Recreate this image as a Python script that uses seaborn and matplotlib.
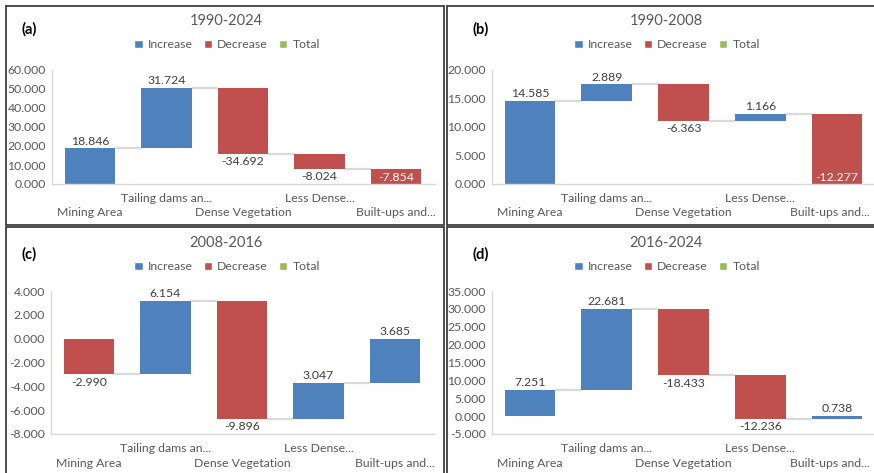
import numpy as np
import pandas as pd
import matplotlib
matplotlib.use("Agg")
import matplotlib.pyplot as plt
from matplotlib.patches import Patch
from matplotlib.lines import Line2D
import seaborn as sns

categories = ["Mining Area", "Tailing dams an...", "Dense Vegetation", "Less Dense...", "Built-ups and..."]
vals_a = [18.846, 31.724, -34.692, -8.024, -7.854]
vals_b = [14.585, 2.889, -6.363, 1.166, -12.277]
vals_c = [-2.990, 6.154, -9.896, 3.047, 3.685]
vals_d = [7.251, 22.681, -18.433, -12.236, 0.738]
titles = ["1990-2024", "1990-2008", "2008-2016", "2016-2024"]
letters = ["(a)", "(b)", "(c)", "(d)"]
ylims = [(0, 60), (0, 20), (-8, 4), (-5, 35)]
ysteps = [10, 5, 2, 5]
legend_labels = ["Increase", "Decrease", "Total"]

C_INC = "#4F81BD"
C_DEC = "#C0504D"
C_TOT = "#9BBB59"
GRAY_TXT = "#595959"

sns.set_theme(style="white")
plt.rcParams["font.family"] = ["Lato", "DejaVu Sans"]

W, H = 874, 473
fig = plt.figure(figsize=(W / 100, H / 100), dpi=100)
fig.patch.set_facecolor("white")

def fx(px):
    return px / W

def fy(py):
    return 1 - py / H

panels = [
    dict(l=51.5, r=434.5, t=70, b=184, ox=0, oy=0),
    dict(l=491.5, r=875.5, t=70, b=184, ox=440, oy=0),
    dict(l=50.5, r=433.5, t=291, b=434, ox=0, oy=222),
    dict(l=491.5, r=875.5, t=291, b=434, ox=440, oy=222),
]
all_vals = [vals_a, vals_b, vals_c, vals_d]
FS = 8.8

for i, (p, vals) in enumerate(zip(panels, all_vals)):
    ax = fig.add_axes([fx(p["l"]), fy(p["b"]), fx(p["r"] - p["l"]), (p["b"] - p["t"]) / H])
    vals = np.array(vals)
    ends = np.cumsum(vals)
    starts = ends - vals
    df = pd.DataFrame({"cat": categories, "val": vals, "start": starts})
    sns.barplot(data=df, x="cat", y="val", order=categories, bottom=df["start"].values,
                ax=ax, width=0.66, errorbar=None, linewidth=0, saturation=1, color=C_INC)
    for patch, v in zip(ax.patches, vals):
        patch.set_facecolor(C_INC if v >= 0 else C_DEC)
        patch.set_edgecolor("none")
    hw = 0.33
    for k in range(len(vals) - 1):
        ax.plot([k + hw, k + 1 - hw], [ends[k], ends[k]], color="#D9D9D9", lw=1.6, zorder=1,
                solid_capstyle="butt")
    ymin, ymax = ylims[i]
    span = ymax - ymin
    off = span * 0.035
    for k, v in enumerate(vals):
        txt = f"{v:.3f}"
        top = max(starts[k], ends[k])
        bot = min(starts[k], ends[k])
        if v >= 0:
            ax.text(k, top + off * 0.4, txt, ha="center", va="bottom", fontsize=FS, color="#404040")
        else:
            if bot <= ymin + span * 0.01:
                ax.text(k, bot + off * 0.2, txt, ha="center", va="bottom", fontsize=FS, color="white")
            else:
                ax.text(k, bot - off * 0.5, txt, ha="center", va="top", fontsize=FS, color="#404040")
    ax.set_xlim(-0.5, 4.5)
    ax.set_ylim(ymin, ymax)
    ticks = np.arange(ymin, ymax + 0.001, ysteps[i])
    ax.set_yticks(ticks)
    ax.set_yticklabels([f"{t:.3f}" for t in ticks])
    ax.tick_params(axis="y", labelsize=FS, labelcolor=GRAY_TXT, length=0, pad=4)
    ax.set_xticks([])
    ax.set_xlabel("")
    ax.set_ylabel("")
    for s in ["top", "right"]:
        ax.spines[s].set_visible(False)
    ax.spines["left"].set_color("#D9D9D9")
    ax.spines["left"].set_linewidth(1.0)
    ax.spines["bottom"].set_color("#D9D9D9")
    ax.spines["bottom"].set_linewidth(1.0)
    ax.patch.set_alpha(0)
    cw = (p["r"] - p["l"]) / 5
    row1 = p["b"] + 14
    row2 = p["b"] + 29
    for k, c in enumerate(categories):
        xc = p["l"] + cw * (k + 0.5)
        yy = row2 if k % 2 == 0 else row1
        if xc + 45 > W:
            fig.text(fx(W - 4), fy(yy), c, ha="right", va="center", fontsize=FS, color=GRAY_TXT)
        else:
            fig.text(fx(xc), fy(yy), c, ha="center", va="center", fontsize=FS, color=GRAY_TXT)
    ox, oy = p["ox"], p["oy"]
    fig.text(fx(226 + ox), fy(21 + oy), titles[i], ha="center", va="center", fontsize=10.5, color=GRAY_TXT)
    fig.text(fx(22 + ox + (10 if i % 2 else 0)), fy(29 + oy + (3 if i >= 2 else 0)), letters[i],
             ha="left", va="center", fontsize=10.5, fontweight="bold", color="black")
    handles = [Patch(facecolor=C_INC), Patch(facecolor=C_DEC), Patch(facecolor=C_TOT)]
    fig.legend(handles, legend_labels, loc="center", bbox_to_anchor=(fx(227 + ox), fy(45 + oy)),
               ncol=3, frameon=False, fontsize=FS, handlelength=0.7, handleheight=0.7,
               handletextpad=0.4, columnspacing=0.9, labelcolor=GRAY_TXT, borderpad=0)

lc = "#404040"
lw = 1.3
frame_lines = [
    ([6, 444.3], [6, 6]), ([446.7, 874], [6, 6]),
    ([6, 6], [6, 225]), ([6, 444.3], [225, 225]), ([444.3, 444.3], [6, 225]),
    ([446.7, 446.7], [6, 225]), ([446.7, 874], [225, 225]),
    ([6, 444.3], [227.5, 227.5]), ([6, 6], [227.5, 473]), ([444.3, 444.3], [227.5, 473]),
    ([446.7, 874], [227.5, 227.5]), ([446.7, 446.7], [227.5, 473]),
]
for xs, ys in frame_lines:
    fig.add_artist(Line2D([fx(x) for x in xs], [fy(y) for y in ys], color=lc, lw=lw,
                          transform=fig.transFigure))

fig.savefig("out.png", dpi=100, facecolor="white")
